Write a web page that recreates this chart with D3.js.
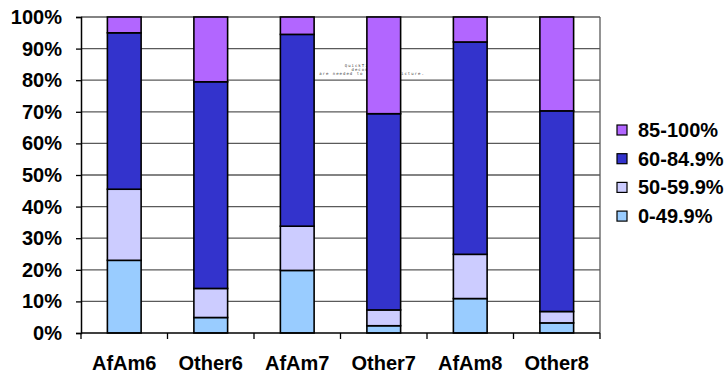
<!DOCTYPE html>
<html>
<head>
<meta charset="utf-8">
<script src="https://cdn.jsdelivr.net/npm/d3@7"></script>
<style>
  html, body { margin: 0; padding: 0; background: #fff; }
  svg { display: block; font-family: "Liberation Sans", Arial, sans-serif; }
</style>
</head>
<body>
<svg id="chart" width="728" height="374"></svg>
<script>
// Groups along the x axis
const categories = ["AfAm6", "Other6", "AfAm7", "Other7", "AfAm8", "Other8"];

// Score bands, stacked from the bottom up
const bands = ["0-49.9%", "50-59.9%", "60-84.9%", "85-100%"];

// Share of students (%) in each band, per group
const band0to49  = [23.0,  4.9, 19.8,  2.3, 10.9,  3.2];
const band50to59 = [22.5,  9.2, 14.0,  5.0, 14.0,  3.6];
const band60to84 = [49.5, 65.4, 60.7, 62.1, 67.2, 63.5];
const band85to100 = [5.0, 20.5,  5.5, 30.6,  7.9, 29.7];

const yTicks = [0, 10, 20, 30, 40, 50, 60, 70, 80, 90, 100];
const yTickLabels = yTicks.map(v => v + "%");

const colors = {
  "0-49.9%": "#99ccff",
  "50-59.9%": "#ccccff",
  "60-84.9%": "#3333cc",
  "85-100%": "#b266ff"
};

const rows = categories.map((c, i) => ({
  cat: c,
  "0-49.9%": band0to49[i],
  "50-59.9%": band50to59[i],
  "60-84.9%": band60to84[i],
  "85-100%": band85to100[i]
}));

const svg = d3.select("#chart");
const plot = { left: 81, right: 600, top: 17, bottom: 333 };

const x = d3.scaleBand().domain(categories).range([plot.left, plot.right]).paddingInner(0.61).paddingOuter(0.305);
const xBoundaries = d3.scaleBand().domain(categories).range([plot.left, plot.right]);
const y = d3.scaleLinear().domain([0, 100]).range([plot.bottom, plot.top]);

// Horizontal gridlines
svg.append("g").selectAll("line").data(yTicks.filter(v => v > 0)).join("line")
  .attr("x1", plot.left).attr("x2", plot.right)
  .attr("y1", d => y(d)).attr("y2", d => y(d))
  .attr("stroke", "#5a5a5a").attr("stroke-width", 1.3);

// Right border of the plot area
svg.append("line")
  .attr("x1", plot.right).attr("x2", plot.right)
  .attr("y1", plot.top).attr("y2", plot.bottom)
  .attr("stroke", "#5a5a5a").attr("stroke-width", 1.3);

// Embedded-object placeholder caption
const qt = svg.append("text").attr("text-anchor", "middle").attr("font-size", 4)
  .attr("letter-spacing", 1).attr("fill", "#444").attr("font-family", "DejaVu Sans Mono");
["QuickTime\u2122 and a", "decompressor", "are needed to see this picture."].forEach((t, i) => {
  qt.append("tspan").attr("x", 372).attr("y", 66.5 + i * 4.3).text(t);
});

// Stacked bars
const stack = d3.stack().keys(bands)(rows);
svg.append("g").selectAll("g").data(stack).join("g")
  .attr("fill", d => colors[d.key])
  .selectAll("rect").data(d => d).join("rect")
  .attr("x", d => x(d.data.cat))
  .attr("width", x.bandwidth())
  .attr("y", d => y(d[1]))
  .attr("height", d => y(d[0]) - y(d[1]))
  .attr("stroke", "#000").attr("stroke-width", 1.6);

// Y axis
const yAxis = d3.axisLeft(y).tickValues(yTicks).tickFormat((d, i) => yTickLabels[i]).tickSize(5).tickPadding(14);
const gy = svg.append("g").attr("transform", `translate(${plot.left},0)`).call(yAxis);
gy.select(".domain").attr("stroke", "#000").attr("stroke-width", 1.5);
gy.selectAll(".tick line").attr("stroke", "#000").attr("stroke-width", 1.3);
gy.selectAll(".tick text").attr("font-size", 20).attr("font-weight", "bold")
  .attr("fill", "#000").attr("font-family", "Liberation Sans, Arial, sans-serif");

// X axis: baseline with ticks between groups
svg.append("line").attr("x1", plot.left).attr("x2", plot.right)
  .attr("y1", plot.bottom).attr("y2", plot.bottom)
  .attr("stroke", "#000").attr("stroke-width", 1.5);
const bounds = categories.map(c => xBoundaries(c)).concat([plot.right]);
svg.append("g").selectAll("line").data(bounds).join("line")
  .attr("x1", d => d).attr("x2", d => d)
  .attr("y1", plot.bottom).attr("y2", plot.bottom + 6)
  .attr("stroke", "#000").attr("stroke-width", 1.3);
svg.append("g").selectAll("text").data(categories).join("text")
  .attr("x", d => xBoundaries(d) + xBoundaries.bandwidth() / 2)
  .attr("y", 370)
  .attr("text-anchor", "middle")
  .attr("font-size", 20).attr("font-weight", "bold").attr("fill", "#000")
  .text(d => d);

// Legend (top band first)
const legendItems = bands.slice().reverse();
const lg = svg.append("g").selectAll("g").data(legendItems).join("g")
  .attr("transform", (d, i) => `translate(617,${130 + i * 28.7})`);
lg.append("rect").attr("x", 0).attr("y", -5).attr("width", 10).attr("height", 10)
  .attr("fill", d => colors[d]).attr("stroke", "#000").attr("stroke-width", 1.2);
lg.append("text").attr("x", 21).attr("y", 7)
  .attr("font-size", 20).attr("font-weight", "bold").attr("fill", "#000")
  .text(d => d);
</script>
</body>
</html>
